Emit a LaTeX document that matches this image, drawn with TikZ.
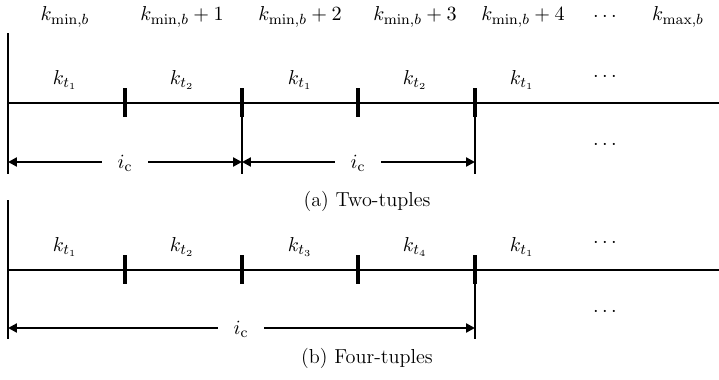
\documentclass[tikz,border=0pt]{standalone}
\usetikzlibrary{arrows.meta}
\begin{document}
\begin{tikzpicture}[x=0.543pt,y=-0.543pt,
  every node/.style={font=\fontsize{11}{13}\selectfont},
  axisline/.style={line width=1.2pt},
  tickmark/.style={line width=1.7pt},
  guide/.style={line width=1.2pt},
  dimarrow/.style={line width=1.2pt,-{Triangle[length=4.8pt,width=4.8pt]}},
  lab/.style={inner sep=0pt},
  gaplab/.style={inner sep=0pt,minimum width=25pt}]
\useasboundingbox (0,0) rectangle (719,379);

% ---------- (a) two-tuples ----------
\foreach \x/\t/\n in {65/{k_{\min,b}}/h1,182/{k_{\min,b}+1}/h2,300/{k_{\min,b}+2}/h3,415/{k_{\min,b}+3}/h4,523/{k_{\min,b}+4}/h5,605/{\cdots}/h6,678/{k_{\max,b}}/h7}
  \node[lab] (\n) at (\x,17) {$\t$};

\coordinate (aVt) at (8,33);
\coordinate (aVb) at (8,174);
\coordinate (aL) at (8,103);
\coordinate (aR) at (719,103);
\draw[guide] (aVt) -- (aVb);
\draw[axisline] (aL) -- (aR);
\foreach \x/\n in {125/at1,242/at2,358/at3,475/at4}{
  \coordinate (\n t) at (\x,88);
  \coordinate (\n b) at (\x,117);
  \draw[tickmark] (\n t) -- (\n b);
}
\coordinate (aV2b) at (242,174);
\coordinate (aV4b) at (475,174);
\draw[guide] (at2b) -- (aV2b);
\draw[guide] (at4b) -- (aV4b);

\foreach \x/\t/\n in {65/{k_{t_1}}/ak1,182/{k_{t_2}}/ak2,300/{k_{t_1}}/ak3,415/{k_{t_2}}/ak4,522/{k_{t_1}}/ak5}
  \node[lab] (\n) at (\x,80) {$\t$};
\node[lab] (adots1) at (605,77) {$\cdots$};
\node[lab] (adots2) at (605,145) {$\cdots$};

\coordinate (ae0) at (8,162);
\coordinate (ae1) at (242,162);
\coordinate (ae2) at (475,162);
\node[gaplab] (aic1) at (125,163) {$i_\mathrm{c}$};
\node[gaplab] (aic2) at (358,163) {$i_\mathrm{c}$};
\draw[dimarrow] (aic1.west |- ae0) -- (ae0);
\draw[dimarrow] (aic1.east |- ae0) -- (ae1);
\draw[dimarrow] (aic2.west |- ae0) -- (ae1);
\draw[dimarrow] (aic2.east |- ae0) -- (ae2);

\node[lab] (capa) at (367,201) {(a) Two-tuples};

% ---------- (b) four-tuples ----------
\coordinate (bVt) at (8,200);
\coordinate (bVb) at (8,339);
\coordinate (bL) at (8,270);
\coordinate (bR) at (719,270);
\draw[guide] (bVt) -- (bVb);
\draw[axisline] (bL) -- (bR);
\foreach \x/\n in {125/bt1,242/bt2,358/bt3,475/bt4}{
  \coordinate (\n t) at (\x,255);
  \coordinate (\n b) at (\x,284);
  \draw[tickmark] (\n t) -- (\n b);
}
\coordinate (bV4b) at (475,339);
\draw[guide] (bt4b) -- (bV4b);

\foreach \x/\t/\n in {65/{k_{t_1}}/bk1,182/{k_{t_2}}/bk2,300/{k_{t_3}}/bk3,415/{k_{t_4}}/bk4,522/{k_{t_1}}/bk5}
  \node[lab] (\n) at (\x,247) {$\t$};
\node[lab] (bdots1) at (605,243) {$\cdots$};
\node[lab] (bdots2) at (605,312) {$\cdots$};

\coordinate (be0) at (8,328);
\coordinate (be1) at (475,328);
\node[gaplab] (bic) at (241,329) {$i_\mathrm{c}$};
\draw[dimarrow] (bic.west |- be0) -- (be0);
\draw[dimarrow] (bic.east |- be0) -- (be1);

\node[lab] (capb) at (367,358) {(b) Four-tuples};
\end{tikzpicture}
\end{document}
